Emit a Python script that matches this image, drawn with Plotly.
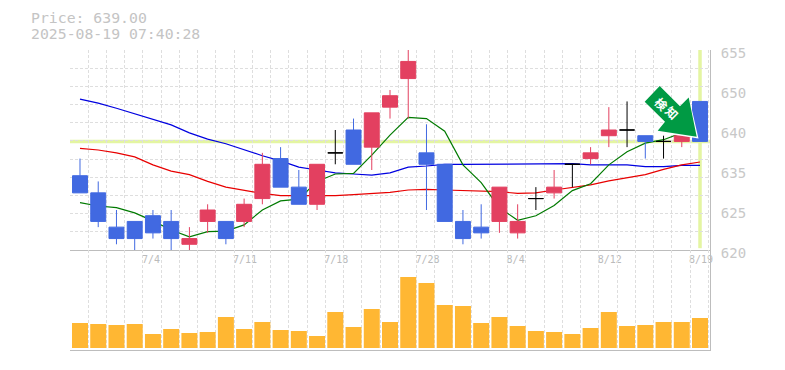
import plotly.graph_objects as go

dates = ["6/30","7/1","7/2","7/3","7/4","7/7","7/8","7/9","7/10","7/11","7/14","7/15","7/16","7/17","7/18",
         "7/22","7/23","7/24","7/25","7/28","7/29","7/30","7/31","8/1","8/4","8/5","8/6","8/7","8/8","8/12",
         "8/13","8/14","8/15","8/18","8/19"]
opens  = [633,630,624,625,626,625,621,625,625,625,629,636,631,628,637,641,638,645,650,637,635,625,624,625,623,629,630,635,636,640,641,640,639,639,646]
highs  = [636,632,627,625,627,627,624,628,625,629,637,638,634,635,641,643,644,648,656,642,635,627,628,631,628,631,634,635,638,645,646,640,640,640,646]
lows   = [630,624,621,620,622,620,620,623,621,624,628,631,628,627,635,635,634,643,643,627,625,621,622,623,622,627,629,631,635,638,638,636,636,638,639]
closes = [630,625,622,622,623,622,622,627,622,628,635,631,628,635,637,635,644,647,653,635,625,622,623,631,625,629,631,635,637,641,641,639,639,640,639]
ma_short = [628.3,627.7,627.4,626.5,625.1,623.5,622.3,623.2,623.3,624.4,627.0,628.6,628.9,632.0,633.3,633.4,636.6,640.1,643.2,643.0,640.8,634.9,631.8,627.4,625.2,626.0,627.8,630.4,631.6,634.9,637.2,638.7,639.3,640.5,642.2]
ma_mid   = [637.8,637.5,637.0,636.3,634.9,633.8,633.2,632.0,631.0,630.4,629.9,629.5,629.5,629.5,629.5,629.7,629.9,630.1,630.5,630.6,630.5,630.4,630.2,630.2,629.9,630.0,630.5,630.9,631.4,632.1,632.6,633.2,634.1,634.9,635.4]
ma_long  = [646.4,645.7,644.8,643.8,642.8,641.9,640.5,639.4,638.6,637.5,636.5,635.6,634.5,634.0,633.5,633.3,633.1,633.5,634.5,634.7,635.0,635.0,635.0,635.0,635.0,635.0,635.1,635.1,634.9,634.9,634.9,634.6,634.6,634.8,634.8]
volumes = [25,24,23,24,14,19,15,16,31,19,26,18,17,12,36,21,39,26,71,65,43,42,25,31,22,17,16,14,20,36,22,23,26,26,30]
current_price = 639
price_ticks = [620,627,634,641,648,655]
price_labels = ["620","625","635","640","650","655"]
label_idx = [4,9,14,19,24,29,34]
title_lines = ["Price: 639.00","2025-08-19 07:40:28"]
badge_chars = ["検","知"]

MONO = "DejaVu Sans Mono"
UP, DOWN, DOJI = "#e34060", "#4169e1", "#000000"
GRID = "#dedede"
FRAME = "#bdbdbd"
HILITE = "#e4f5a2"

idx = list(range(len(dates)))
def pick(cond):
    s = [i for i in idx if cond(opens[i], closes[i])]
    return dict(x=s, open=[opens[i] for i in s], high=[highs[i] for i in s],
                low=[lows[i] for i in s], close=[closes[i] for i in s])

fig = go.Figure()
for vals, col in [(ma_long,"#0000e0"),(ma_mid,"#e80000"),(ma_short,"#007a00")]:
    fig.add_trace(go.Scatter(x=idx,y=vals,mode="lines",line=dict(color=col,width=1.2),
                             showlegend=False,xaxis="x",yaxis="y"))
for cond, col in [(lambda o,c: c>o, UP), (lambda o,c: c<o, DOWN), (lambda o,c: c==o, DOJI)]:
    fig.add_trace(go.Candlestick(**pick(cond), whiskerwidth=0, showlegend=False,
        increasing=dict(line=dict(color=col,width=1), fillcolor=col),
        decreasing=dict(line=dict(color=col,width=1), fillcolor=col),
        xaxis="x", yaxis="y3"))
fig.add_trace(go.Bar(x=idx,y=volumes,marker=dict(color="#ffb733",line=dict(width=0)),showlegend=False,xaxis="x2",yaxis="y2"))

xrange = [-0.548, 34.548]
grid_x = dict(showgrid=True,gridcolor=GRID,griddash="3px,2px",gridwidth=1,tick0=-0.548,dtick=1,ticks="")
fig.update_layout(
    width=785,height=370,autosize=False,
    margin=dict(l=70,r=75,t=50,b=20,pad=0,autoexpand=False),
    paper_bgcolor="white",plot_bgcolor="white",
    boxmode="overlay",boxgap=0.18,boxgroupgap=0,bargap=0.123,showlegend=False,
    xaxis=dict(domain=[0,1],anchor="y",range=xrange,rangeslider=dict(visible=False),showgrid=False,zeroline=False,
               tickmode="array",tickvals=label_idx,automargin=False,
               ticktext=[dates[i].ljust(4,"\u00a0") for i in label_idx],
               tickfont=dict(family=MONO,size=10,color="#bbbbbb"),ticks="",ticklabelshift=1,
               showline=True,linecolor=FRAME,linewidth=1,minor=grid_x),
    xaxis2=dict(domain=[0,1],anchor="y2",range=xrange,showgrid=False,zeroline=False,showticklabels=False,
               tickmode="array",tickvals=[],ticks="",showline=True,linecolor=FRAME,linewidth=1,minor=grid_x),
    yaxis=dict(domain=[1/3,1],anchor="x",side="right",range=[620,655],showgrid=False,zeroline=False,automargin=False,
               tickmode="array",tickvals=price_ticks,ticktext=price_labels,
               tickfont=dict(family=MONO,size=14,color="#c8c8c8"),ticks="",ticklabelstandoff=7,ticklabelshift=3,
               showline=True,linecolor=FRAME,linewidth=1,
               minor=dict(showgrid=True,gridcolor=GRID,griddash="3px,2px",gridwidth=1,tick0=620,dtick=35/11,ticks="")),
    yaxis3=dict(domain=[1/3,1],overlaying="y",anchor="x",side="right",range=[620,655],showgrid=False,zeroline=False,
                showticklabels=False,ticks="",showline=False),
    yaxis2=dict(domain=[0,1/3],anchor="x2",side="right",range=[-2,98],showgrid=False,zeroline=False,
               showticklabels=False,ticks="",showline=True,linecolor=FRAME,linewidth=1),
    shapes=[
        dict(type="line",xref="x",yref="y",x0=xrange[0],x1=xrange[1],y0=current_price,y1=current_price,
             line=dict(color=HILITE,width=3.5),layer="below"),
        dict(type="line",xref="x",yref="paper",x0=idx[-1],x1=idx[-1],y0=1/3+0.006,y1=1,
             line=dict(color=HILITE,width=3.5),layer="below"),
    ],
    annotations=[
        dict(text=title_lines[0],xref="paper",yref="paper",x=-70/640+28.5/640,y=1+32/300,xanchor="left",yanchor="middle",
             showarrow=False,font=dict(family=MONO,size=14.8,color="#c4c4c4")),
        dict(text=title_lines[1],xref="paper",yref="paper",x=-70/640+28.5/640,y=1+17/300,xanchor="left",yanchor="middle",
             showarrow=False,font=dict(family=MONO,size=14.8,color="#c4c4c4")),
    ],
)

# arrow badge, in pixel-derived paper coordinates
def px(x,y): return (x-70)/640, (350-y)/300
def path(points):
    return "M " + " L ".join(f"{a:.5f} {b:.5f}" for a,b in (px(*p) for p in points)) + " Z"
arrow = [(644.7,101.7),(659.7,86),(680,106.3),(688.7,97.5),(696.7,136.7),(657.7,130.7),(665,121.7)]
outline = [(644.7,101.7),(659.7,86),(680,106.3),(689,97),(698.5,138.5),(656.5,132),(665,121.7)]
fig.add_shape(type="path",xref="paper",yref="paper",path=path(outline),fillcolor="#ffffff",line=dict(width=0),layer="above")
fig.add_shape(type="path",xref="paper",yref="paper",path=path(arrow),fillcolor="#009a44",line=dict(width=0),layer="above")
for ch,(cx,cy) in zip(badge_chars,[(661.7,103),(672.3,113)]):
    fig.add_annotation(text=f"<b>{ch}</b>",xref="paper",yref="paper",x=px(cx,cy)[0],y=px(cx,cy)[1],showarrow=False,textangle=45,
                       xanchor="center",yanchor="middle",
                       font=dict(family="Noto Sans CJK JP",size=12,color="#ffffff"))

fig.write_html("out.html",config=dict(displayModeBar=False),
               post_script="document.body.style.margin='0';document.body.style.overflow='hidden';")
